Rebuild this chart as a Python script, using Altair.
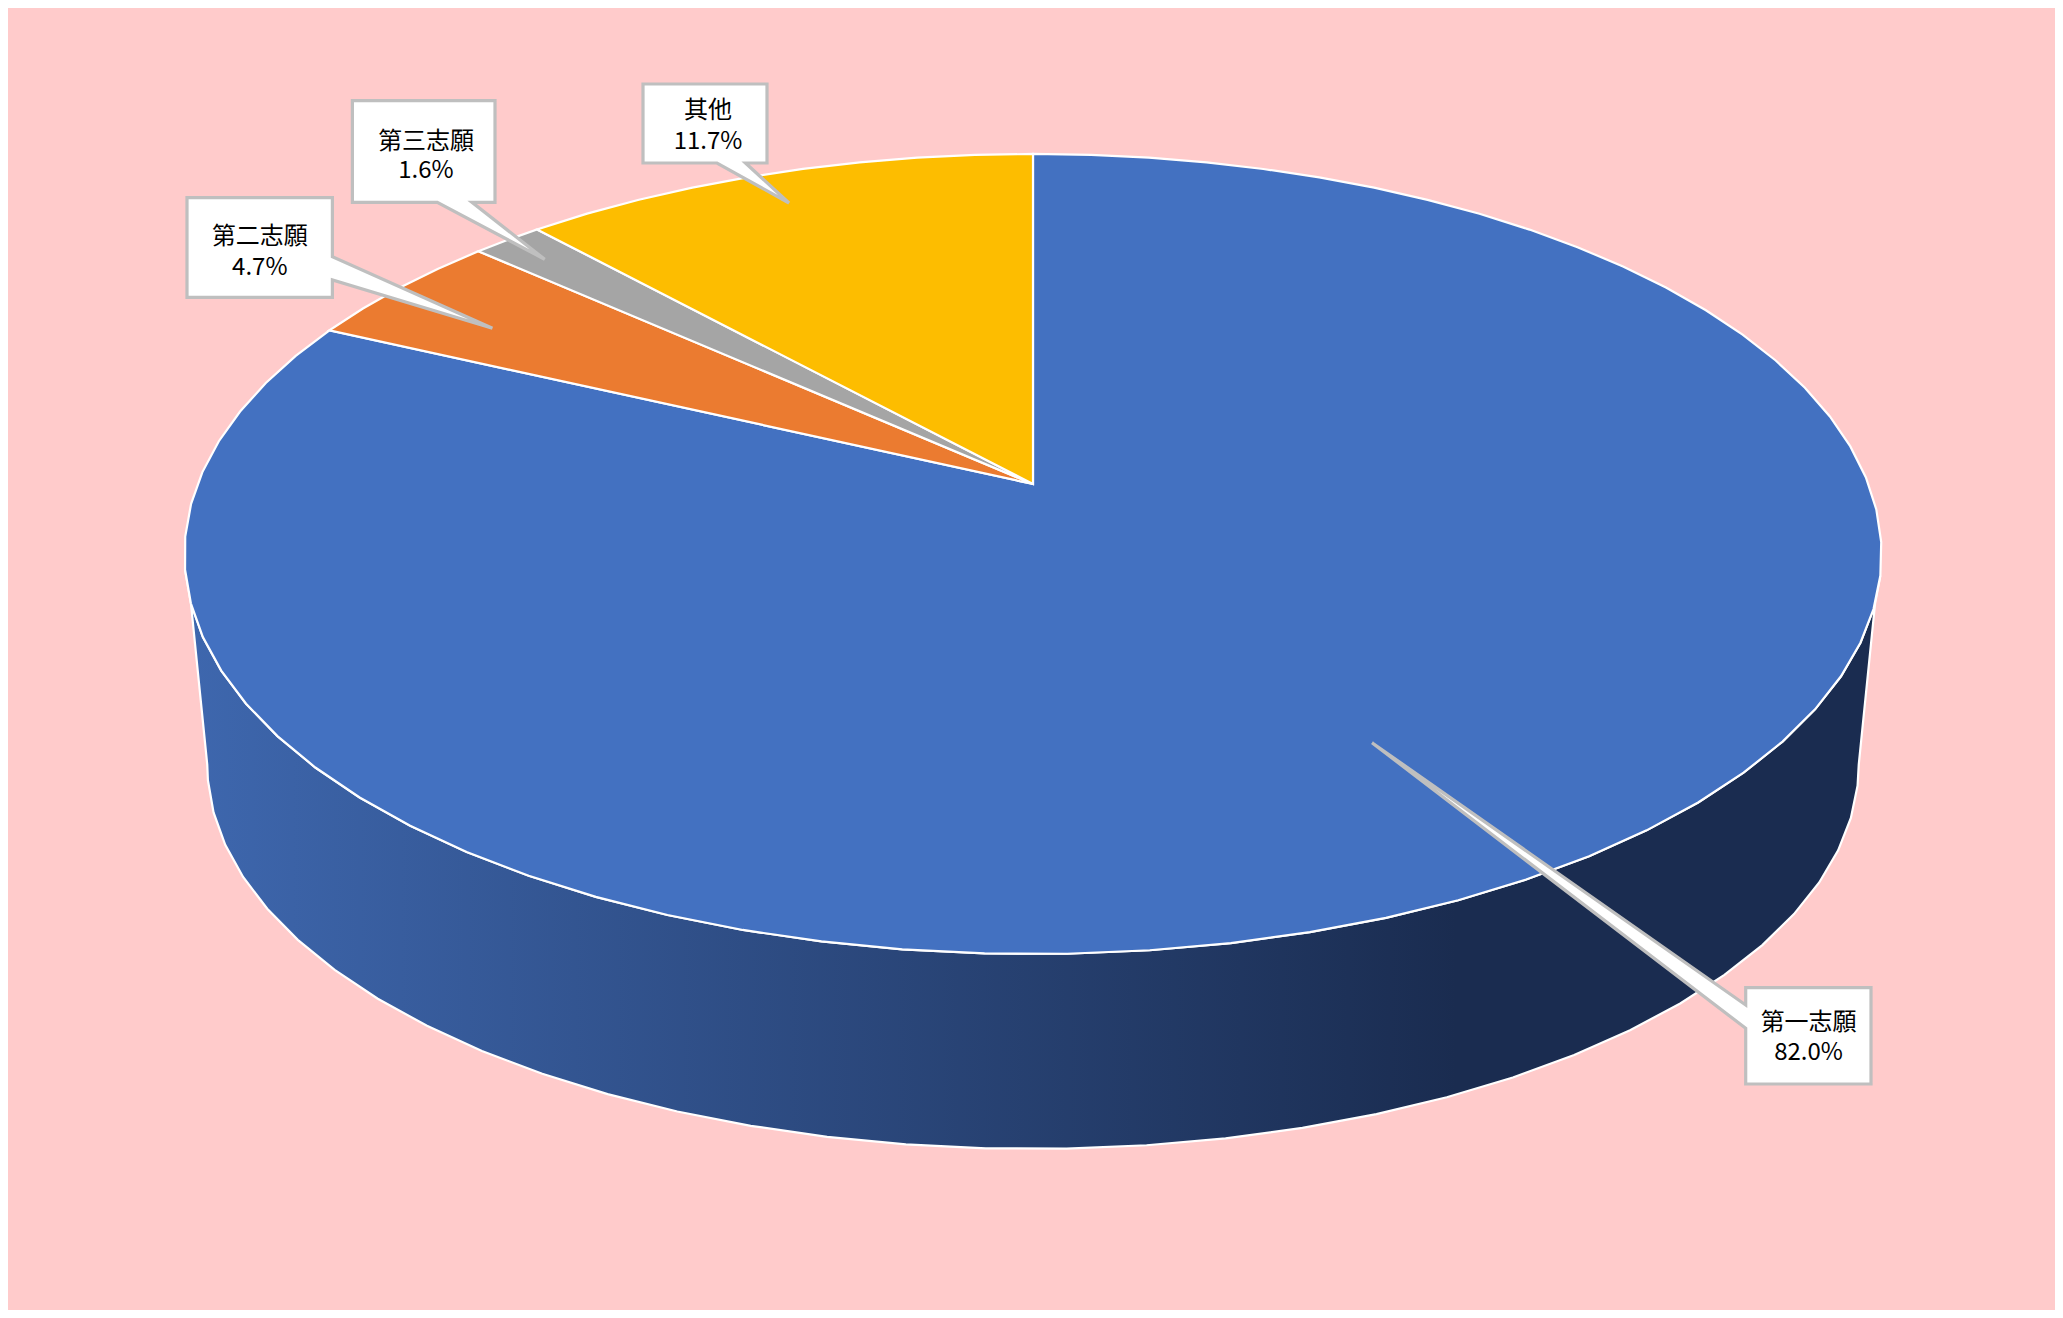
import numpy as np
import pandas as pd
import altair as alt

# Data
names = ["第一志願", "第二志願", "第三志願", "其他"]
shares = [82.0, 4.7, 1.6, 11.7]
share_labels = ["82.0%", "4.7%", "1.6%", "11.7%"]
colours = ["#4371C1", "#EB7B30", "#A5A5A5", "#FDBD00"]
page_bg = "#FFCBCB"

# Callout boxes (left, right, top, bottom), tail base and tail tip
boxes = [(1745.7, 1871.0, 987.7, 1084.0), (187.0, 332.4, 197.7, 297.3),
         (352.4, 495.0, 100.7, 202.3), (643.0, 767.0, 84.0, 163.0)]
tail_bases = [((1745.7, 1005.0), (1745.7, 1028.3)), ((332.4, 256.7), (332.4, 280.0)),
              ((437.3, 202.3), (472.0, 202.3)), ((717.0, 163.0), (745.5, 163.0))]
tail_tips = [(1372.0, 742.7), (492.4, 328.3), (544.7, 259.3), (789.0, 203.0)]
label_x = [1808.6, 259.8, 426.0, 708.0]
label_y1 = [1023.0, 236.5, 141.5, 111.0]
label_y2 = [1053.0, 267.5, 171.0, 141.5]

# Oblique view of the pie: the apex sits above the centre of the top ellipse
TOP = dict(cx=1033.0, cy=484.0, A=835.5, B=387.8)
BOTTOM = dict(cx=1033.0, cy=698.0, A=813.0, B=372.0)
K = 0.175
FACET = 295.2 / 63  # the rim is drawn as straight facets of this many degrees


def project(theta_deg, lvl):
    t = np.radians(theta_deg)
    u, v = np.sin(t), np.cos(t)
    d = 1 + K * v
    return lvl["cx"] + lvl["A"] * u / d, lvl["cy"] - lvl["B"] * v / d


def poly(points):
    return pd.DataFrame({"idx": range(len(points)),
                         "x": [float(p[0]) for p in points],
                         "y": [float(p[1]) for p in points]})


xs = alt.Scale(domain=[8, 2055], range=[0, 2047], nice=False, zero=False)
ys = alt.Scale(domain=[8, 1310], range=[0, 1302], nice=False, zero=False)


def shape(points, **mark):
    return alt.Chart(poly(points)).mark_line(interpolate="linear-closed", **mark).encode(
        x=alt.X("x:Q", scale=xs, axis=None),
        y=alt.Y("y:Q", scale=ys, axis=None),
        order=alt.Order("idx:Q"),
    )


layers = []

# Side wall
grid = FACET * np.arange(22, 56)
wall = [project(a, TOP) for a in [107.0] + list(grid) + [253.0]]
wall += [project(a, BOTTOM) for a in [260.0] + list(grid[::-1]) + [100.0]]
layers.append(shape(wall, stroke="white", strokeWidth=2.2, fill={
    "gradient": "linear", "x1": 0, "x2": 1, "y1": 0, "y2": 0,
    "stops": [{"offset": 0, "color": "#3E67AE"},
              {"offset": 0.75, "color": "#1A2C50"},
              {"offset": 1, "color": "#1A2C50"}],
}))

# Top face slices, clockwise from 12 o'clock
start = 0.0
for share, col in zip(shares, colours):
    end = start + share * 3.6
    n = max(int(round((end - start) / FACET)), 2)
    arc = np.linspace(start, end, n + 1)
    pts = [(TOP["cx"], TOP["cy"])] + [project(a, TOP) for a in arc]
    layers.append(shape(pts, fill=col, stroke="white", strokeWidth=2.2))
    start = end

# Callouts
for box, base, tip in zip(boxes, tail_bases, tail_tips):
    l, r, t, b = box
    if base[0][1] == base[1][1]:  # tail on bottom edge
        pts = [(l, t), (r, t), (r, b), base[1], tip, base[0], (l, b)]
    elif base[0][0] == r:  # tail on right edge
        pts = [(l, t), (r, t), base[0], tip, base[1], (r, b), (l, b)]
    else:  # tail on left edge
        pts = [(l, t), (r, t), (r, b), (l, b), base[1], tip, base[0]]
    layers.append(shape(pts, fill="white", stroke="#BFBFBF", strokeWidth=3.2))

text_df = pd.DataFrame({
    "x": label_x + label_x,
    "y": label_y1 + label_y2,
    "t": names + share_labels,
})
layers.append(alt.Chart(text_df).mark_text(
    font="Noto Sans CJK TC", fontSize=24, color="black", align="center", baseline="middle"
).encode(
    x=alt.X("x:Q", scale=xs, axis=None),
    y=alt.Y("y:Q", scale=ys, axis=None),
    text="t:N",
))

chart = alt.layer(*layers).properties(
    width=2047, height=1302, background=page_bg, padding=0,
    autosize=alt.AutoSizeParams(type="none"),
).configure_view(stroke=None)

chart.save("out.html", embed_options={"renderer": "svg", "actions": False})
